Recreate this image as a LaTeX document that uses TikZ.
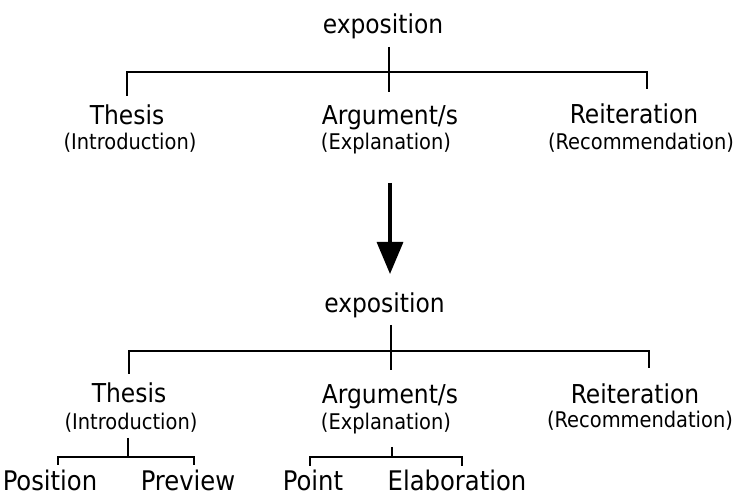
\documentclass[tikz,border=0pt]{standalone}
\usepackage{fontspec}
\setmainfont{DejaVu Sans Condensed}
\usetikzlibrary{arrows.meta}

\tikzset{
  head/.style={inner sep=0pt, anchor=base, font=\fontsize{26bp}{30bp}\selectfont},
  sub/.style={inner sep=0pt, anchor=base, font=\fontsize{21.6bp}{25bp}\selectfont},
  leaf/.style={inner sep=0pt, anchor=base, text depth=0pt, font=\fontsize{27bp}{31bp}\selectfont},
  thinline/.style={line width=2bp},
  thickline/.style={line width=2.6bp},
  bigarrow/.style={line width=3.3bp, -{Triangle[length=32bp,width=26bp]}}
}

\begin{document}
\begin{tikzpicture}[x=1bp, y=1bp]
\useasboundingbox (0,0) rectangle (738,493);

% ---------- upper tree ----------
\node[head] (ex1) at (383,459) {exposition};
\node[head] (th1) at (127,368) {Thesis};
\node[sub]  (in1) at (130,343) {(Introduction)};
\node[head] (ar1) at (390,368) {Argument/s};
\node[sub]  (xp1) at (386,343) {(Explanation)};
\node[head] (re1) at (634,369) {Reiteration};
\node[sub]  (rc1) at (641,343) {(Recommendation)};

\coordinate (r1top) at (389,446);
\coordinate (r1bot) at (389,401);
\coordinate (b1l)   at (127,421);
\coordinate (b1r)   at (647,421);
\coordinate (d1l)   at (127,397);
\coordinate (d1r)   at (647,404);

\draw[thinline] (r1top) -- (r1bot);
\draw[thinline] (d1l) -- (b1l) -- (b1r) -- (d1r);

% ---------- transition arrow ----------
\coordinate (aTop) at (390,310);
\coordinate (aTip) at (390,219);
\draw[bigarrow] (aTop) -- (aTip);

% ---------- lower tree ----------
\node[head] (ex2) at (384.5,180) {exposition};
\node[head] (th2) at (129,90) {Thesis};
\node[sub]  (in2) at (131,63) {(Introduction)};
\node[head] (ar2) at (390,89) {Argument/s};
\node[sub]  (xp2) at (386,63) {(Explanation)};
\node[head] (re2) at (635,89) {Reiteration};
\node[sub]  (rc2) at (640,65) {(Recommendation)};

\coordinate (r2top) at (391,168);
\coordinate (r2bot) at (391,123);
\coordinate (b2l)   at (129,142);
\coordinate (b2r)   at (649,142);
\coordinate (d2l)   at (129,119);
\coordinate (d2r)   at (649,125);

\draw[thickline] (r2top) -- (r2bot);
\draw[thickline] (d2l) -- (b2l) -- (b2r) -- (d2r);

% ---------- leaves under Thesis ----------
\node[leaf] (pos) at (50,2.5)  {Position};
\node[leaf] (pre) at (188,2.5) {Preview};

\coordinate (t3top) at (128,55);
\coordinate (t3mid) at (128,36);
\coordinate (t3l)   at (58,36);
\coordinate (t3r)   at (194,36);
\coordinate (t3ld)  at (58,28);
\coordinate (t3rd)  at (194,28);

\draw[thickline] (t3top) -- (t3mid);
\draw[thickline] (t3ld) -- (t3l) -- (t3r) -- (t3rd);

% ---------- leaves under Argument/s ----------
\node[leaf] (pnt) at (313,2.5) {Point};
\node[leaf] (ela) at (457,2.5) {Elaboration};

\coordinate (a3top) at (392,46);
\coordinate (a3mid) at (392,36);
\coordinate (a3l)   at (310,36);
\coordinate (a3r)   at (462,36);
\coordinate (a3ld)  at (310,27);
\coordinate (a3rd)  at (462,27);

\draw[thickline] (a3top) -- (a3mid);
\draw[thickline] (a3ld) -- (a3l) -- (a3r) -- (a3rd);
\end{tikzpicture}
\end{document}
